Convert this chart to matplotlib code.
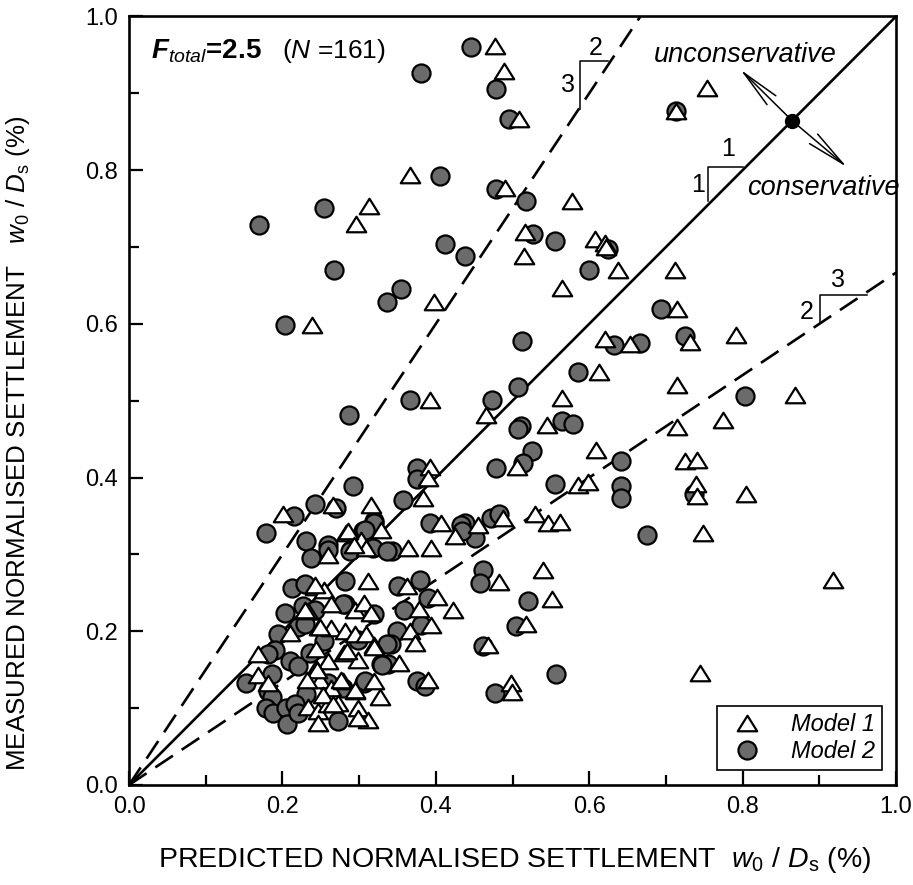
import matplotlib
matplotlib.use('Agg')
import matplotlib.pyplot as plt
from matplotlib.path import Path

plt.rcParams['font.family'] = ['Liberation Sans', 'DejaVu Sans']
plt.rcParams['mathtext.fontset'] = 'custom'
plt.rcParams['mathtext.rm'] = 'Liberation Sans'
plt.rcParams['mathtext.it'] = 'Liberation Sans:italic'
plt.rcParams['mathtext.bf'] = 'Liberation Sans:italic:bold'

# Model 1 (open triangles): predicted vs measured w0/Ds (%)
m1_x = [0.313, 0.296, 0.477, 0.489, 0.509, 0.366, 0.490, 0.578, 0.516, 0.608,
        0.620, 0.622, 0.515, 0.638, 0.753, 0.713, 0.712, 0.239, 0.397, 0.565,
        0.620, 0.653, 0.613, 0.715, 0.732, 0.791, 0.715, 0.868, 0.774, 0.715,
        0.725, 0.740, 0.739, 0.740, 0.805, 0.749, 0.918, 0.744,
        0.564, 0.393, 0.466, 0.545, 0.609, 0.506, 0.392, 0.390, 0.585, 0.598,
        0.383, 0.266, 0.315, 0.201, 0.407, 0.455, 0.488, 0.529, 0.546, 0.562,
        0.540, 0.482, 0.552, 0.518, 0.468, 0.498, 0.499, 0.364, 0.394, 0.425,
        0.363, 0.402, 0.378, 0.422, 0.394, 0.366, 0.373, 0.352, 0.390,
        0.283, 0.303, 0.329, 0.309, 0.259, 0.286, 0.293, 0.311, 0.243, 0.254,
        0.233, 0.263, 0.294, 0.307, 0.316, 0.210, 0.248, 0.263, 0.281, 0.294,
        0.309, 0.320, 0.168, 0.244, 0.260, 0.280, 0.299, 0.244, 0.168, 0.181,
        0.238, 0.249, 0.264, 0.279, 0.294, 0.320, 0.327, 0.233, 0.246, 0.260,
        0.273, 0.299, 0.311, 0.299, 0.247, 0.229, 0.243, 0.249, 0.284, 0.319,
        0.245, 0.232, 0.277, 0.253, 0.266, 0.295]
m1_y = [0.753, 0.730, 0.961, 0.929, 0.867, 0.794, 0.777, 0.760, 0.719, 0.711,
        0.705, 0.700, 0.688, 0.670, 0.907, 0.877, 0.670, 0.599, 0.629, 0.647,
        0.580, 0.574, 0.538, 0.620, 0.576, 0.586, 0.520, 0.508, 0.475, 0.466,
        0.421, 0.423, 0.391, 0.376, 0.378, 0.328, 0.267, 0.146,
        0.503, 0.501, 0.482, 0.468, 0.436, 0.414, 0.414, 0.400, 0.390, 0.394,
        0.374, 0.364, 0.364, 0.352, 0.341, 0.338, 0.347, 0.353, 0.341, 0.342,
        0.280, 0.264, 0.242, 0.209, 0.182, 0.133, 0.121, 0.309, 0.308, 0.324,
        0.259, 0.245, 0.229, 0.228, 0.208, 0.200, 0.185, 0.159, 0.136,
        0.328, 0.319, 0.332, 0.308, 0.299, 0.330, 0.312, 0.266, 0.257, 0.254,
        0.226, 0.235, 0.228, 0.237, 0.224, 0.198, 0.205, 0.204, 0.200, 0.196,
        0.196, 0.182, 0.171, 0.177, 0.161, 0.172, 0.163, 0.152, 0.143, 0.133,
        0.139, 0.137, 0.126, 0.135, 0.122, 0.135, 0.115, 0.102, 0.096, 0.105,
        0.107, 0.100, 0.085, 0.087, 0.081, 0.228, 0.260, 0.206, 0.174, 0.180,
        0.150, 0.137, 0.137, 0.117, 0.106, 0.124]

# Model 2 (grey circles)
m2_x = [0.170, 0.254, 0.267, 0.446, 0.381, 0.478, 0.496, 0.406, 0.478, 0.517,
        0.412, 0.438, 0.527, 0.555, 0.625, 0.600, 0.713, 0.337, 0.354, 0.204,
        0.513, 0.632, 0.666, 0.585, 0.693, 0.725, 0.803, 0.507, 0.366, 0.473,
        0.565, 0.579, 0.511, 0.507, 0.525, 0.514, 0.478, 0.641, 0.375, 0.376,
        0.555, 0.641, 0.641, 0.357, 0.736, 0.287, 0.292,
        0.242, 0.270, 0.215, 0.319, 0.179, 0.392, 0.438, 0.472, 0.483, 0.433,
        0.451, 0.434, 0.343, 0.675,
        0.462, 0.457, 0.520, 0.504, 0.462, 0.557, 0.477, 0.351, 0.380, 0.390,
        0.359, 0.381, 0.350, 0.342, 0.338, 0.376, 0.386,
        0.231, 0.259, 0.237, 0.260, 0.305, 0.318, 0.290, 0.336, 0.282, 0.212,
        0.229, 0.203, 0.227, 0.242, 0.281, 0.194, 0.220, 0.229, 0.254, 0.299,
        0.336, 0.190, 0.181, 0.210, 0.220, 0.236, 0.329, 0.186, 0.153, 0.181,
        0.186, 0.260, 0.279, 0.307, 0.231, 0.272, 0.179, 0.188, 0.205, 0.216,
        0.206, 0.220, 0.319, 0.308, 0.288, 0.320, 0.330, 0.308, 0.279]
m2_y = [0.729, 0.751, 0.670, 0.960, 0.926, 0.906, 0.866, 0.792, 0.776, 0.760,
        0.704, 0.688, 0.717, 0.708, 0.697, 0.670, 0.877, 0.628, 0.646, 0.598,
        0.578, 0.572, 0.575, 0.537, 0.619, 0.584, 0.506, 0.518, 0.501, 0.501,
        0.474, 0.470, 0.467, 0.463, 0.435, 0.419, 0.413, 0.421, 0.413, 0.398,
        0.392, 0.389, 0.374, 0.371, 0.378, 0.481, 0.389,
        0.365, 0.360, 0.350, 0.343, 0.328, 0.341, 0.341, 0.347, 0.352, 0.338,
        0.321, 0.331, 0.305, 0.325,
        0.280, 0.263, 0.240, 0.207, 0.181, 0.145, 0.120, 0.259, 0.267, 0.243,
        0.228, 0.208, 0.200, 0.184, 0.157, 0.135, 0.129,
        0.318, 0.312, 0.296, 0.306, 0.330, 0.308, 0.306, 0.305, 0.265, 0.256,
        0.261, 0.224, 0.233, 0.228, 0.235, 0.197, 0.205, 0.209, 0.187, 0.189,
        0.183, 0.176, 0.171, 0.161, 0.155, 0.172, 0.157, 0.144, 0.133, 0.122,
        0.115, 0.133, 0.126, 0.133, 0.118, 0.083, 0.100, 0.094, 0.100, 0.105,
        0.079, 0.094, 0.341, 0.332, 0.304, 0.223, 0.156, 0.135, 0.236]

ticks = [0.0, 0.2, 0.4, 0.6, 0.8, 1.0]
tick_labels = ['0.0', '0.2', '0.4', '0.6', '0.8', '1.0']

tri = Path([(-1, -0.8), (1, -0.8), (0, 0.8), (-1, -0.8)],
           [Path.MOVETO, Path.LINETO, Path.LINETO, Path.CLOSEPOLY])

fig = plt.figure(figsize=(9.13, 8.85), dpi=100)
ax = fig.add_axes([0.1413, 0.1130, 0.8401, 0.8684])

# reference lines 1:1, 3:2 and 2:3
ax.plot([0, 1], [0, 1], color='k', lw=1.9, zorder=2)
ax.plot([0, 2 / 3], [0, 1], color='k', lw=1.9, dashes=(8, 4), zorder=2)
ax.plot([0, 1], [0, 2 / 3], color='k', lw=1.9, dashes=(8, 4), zorder=2)

# slope triangles
ax.plot([0.5876, 0.5876, 0.6245], [0.879, 0.942, 0.942], color='k', lw=1.1)
ax.text(0.608, 0.959, '2', fontsize=18, ha='center', va='center')
ax.text(0.572, 0.911, '3', fontsize=18, ha='center', va='center')
ax.plot([0.755, 0.755, 0.801], [0.7595, 0.804, 0.804], color='k', lw=1.1)
ax.text(0.781, 0.827, '1', fontsize=18, ha='center', va='center')
ax.text(0.742, 0.781, '1', fontsize=18, ha='center', va='center')
ax.plot([0.901, 0.901, 0.962], [0.601, 0.638, 0.638], color='k', lw=1.1)
ax.text(0.925, 0.6575, '3', fontsize=18, ha='center', va='center')
ax.text(0.8836, 0.616, '2', fontsize=18, ha='center', va='center')

# points
ax.plot(m2_x, m2_y, 'o', ms=13, mfc='#6b6b6b', mec='k', mew=1.6,
        zorder=3, label='Model 2')
ax.plot(m1_x, m1_y, linestyle='none', marker=tri, ms=14, mfc='white',
        mec='k', mew=1.6, zorder=4, label='Model 1')

# conservative / unconservative arrows
ax.plot(0.865, 0.864, 'ko', ms=10, zorder=6)
arrow = dict(arrowstyle='->,head_length=2.8,head_width=0.45', lw=1.1,
             color='k', shrinkA=0, shrinkB=0)
ax.annotate('', xy=(0.797, 0.931), xytext=(0.865, 0.864), arrowprops=arrow)
ax.annotate('', xy=(0.936, 0.804), xytext=(0.865, 0.864), arrowprops=arrow)
ax.text(0.803, 0.950, 'unconservative', fontsize=19.5, style='italic',
        ha='center', va='center')
ax.text(0.905, 0.777, 'conservative', fontsize=19.5, style='italic',
        ha='center', va='center')

# title annotation
ax.text(0.029, 0.955, r'$\mathbf{F}_{\mathit{total}}$=2.5', fontsize=20,
        fontweight='bold', ha='left', va='center')
ax.text(0.200, 0.955, r'($\mathit{N}$ =161)', fontsize=19,
        ha='left', va='center')

ax.set_xlim(0, 1)
ax.set_ylim(0, 1)
ax.set_xticks(ticks)
ax.set_xticklabels(tick_labels)
ax.set_yticks(ticks)
ax.set_yticklabels(tick_labels)
ax.set_xticks([0.1, 0.3, 0.5, 0.7, 0.9], minor=True)
ax.set_yticks([0.1, 0.3, 0.5, 0.7, 0.9], minor=True)
ax.tick_params(which='both', direction='in', width=1.6, labelsize=17)
ax.tick_params(which='major', length=10, pad=8)
ax.tick_params(which='minor', length=7)
for s in ax.spines.values():
    s.set_linewidth(1.9)

ax.set_xlabel(r'PREDICTED NORMALISED SETTLEMENT  $\mathit{w}_0$ / $\mathit{D}_\mathrm{s}$ (%)',
              fontsize=20.5)
ax.set_ylabel(r'MEASURED NORMALISED SETTLEMENT   $\mathit{w}_0$ / $\mathit{D}_\mathrm{s}$ (%)',
              fontsize=18.7)
ax.xaxis.set_label_coords(0.503, -0.078)
ax.yaxis.set_label_coords(-0.127, 0.444)

h, l = ax.get_legend_handles_labels()
leg = ax.legend([h[1], h[0]], [l[1], l[0]], loc='lower right',
                bbox_to_anchor=(0.982, 0.0195), borderaxespad=0,
                fancybox=False, framealpha=1, edgecolor='k',
                prop={'style': 'italic', 'size': 17}, handletextpad=0.85,
                labelspacing=0.15, borderpad=0.3)
leg.get_frame().set_linewidth(1.2)

fig.savefig('out.png', dpi=100)
